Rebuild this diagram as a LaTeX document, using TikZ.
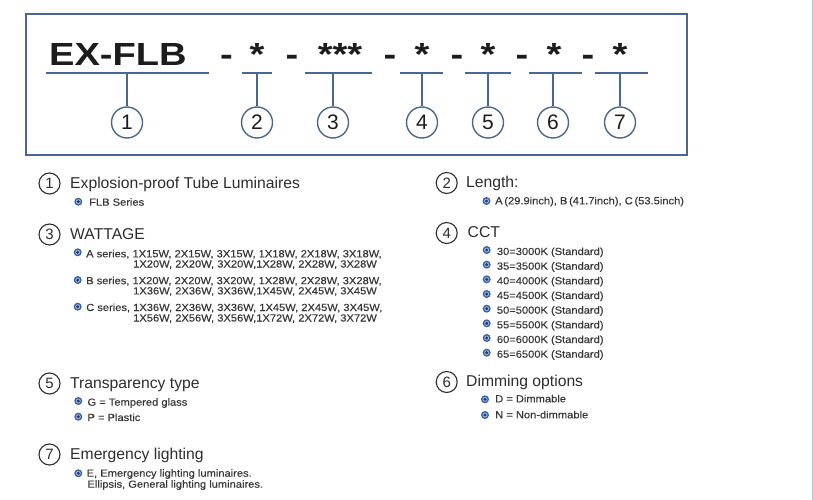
\documentclass[tikz,border=0pt]{standalone}
\usepackage{fontspec}
\setmainfont{Liberation Sans}
\newfontfamily\codefont[FakeStretch=1.19]{Liberation Sans Bold}
\newfontfamily\smallfont[FakeStretch=1.08, FakeBold=0.3]{Liberation Sans}

\definecolor{boxblue}{RGB}{72,104,145}
\definecolor{codeblack}{RGB}{28,28,28}
\definecolor{txtdark}{RGB}{45,45,45}
\definecolor{txtgrey}{RGB}{55,55,55}
\definecolor{bulblue}{RGB}{52,95,162}
\definecolor{buldark}{RGB}{30,62,120}
\definecolor{edgegrey}{RGB}{185,198,212}

\tikzset{
    uline/.style = {draw=boxblue, line width=2pt},
    code/.style = {anchor=base, inner sep=0pt, text=codeblack, font=\codefont\fontsize{32}{32}\selectfont},
    bignum/.style = {draw=boxblue, circle, line width=1.4pt, minimum size=31pt, inner sep=0pt, text=codeblack, font=\fontsize{21}{21}\selectfont},
    num/.style = {draw=txtdark, circle, line width=1.1pt, minimum size=21pt, inner sep=0pt, text=txtdark, font=\fontsize{15}{15}\selectfont},
    head/.style = {anchor=base west, inner sep=0pt, text=txtdark, font=\fontsize{15.7}{18}\selectfont},
    item/.style = {anchor=base west, inner sep=0pt, text=txtgrey, font=\smallfont\fontsize{10.3}{11}\selectfont},
    bul/.pic = {
        \fill[bulblue] (0,0) circle (4pt);
        \fill[white!55!bulblue] (0,0) circle (2.5pt);
        \fill[buldark] (0,0) circle (1.7pt);
    }
}

\begin{document}
\begin{tikzpicture}[x=1pt, y=-1pt]
    \useasboundingbox (0,0) rectangle (813,500);
    \draw[edgegrey, line width=1pt] (812.3,0) -- (812.3,500);

    % code box
    \draw[boxblue, line width=2pt] (26,14) rectangle (687,155);
    \node[code, anchor=base west] (name) at (49,66) {EX-FLB};
    \foreach \x/\t [count=\i] in {226.5/-, 257/*, 292/-, 340/***, 390/-, 422/*, 457/-, 488/*, 522/-, 554/*, 588/-, 620/*}
        \node[code] (k\i) at (\x,66) {\t};

    % underlines, stems and numbers
    \foreach \l/\r/\s [count=\i] in {46/209/127, 242/272/257, 305/372/333, 400/443/422, 465/511/488, 529/582/553, 595/648/620} {
        \draw[uline] (\l,73) -- (\r,73);
        \coordinate (u\i) at (\s,73);
        \node[bignum] (c\i) at (\s,122.5) {\i};
        \draw[boxblue, line width=1.4pt] (u\i) -- (c\i);
    }

    % left column
    \node[num] (n1) at (49.5,183.5) {1};
    \node[head] (h1) at (70,188.3) {Explosion-proof Tube Luminaires};
    \pic at (78.3,201.7) {bul};
    \node[item] (flb) at (89,205.7) {FLB Series};

    \node[num] (n3) at (49.5,234.5) {3};
    \node[head] (h3) at (70,239) {WATTAGE};
    \pic at (77.7,252.3) {bul};
    \node[item] (wa) at (86,257.3) {A series, 1X15W, 2X15W, 3X15W, 1X18W, 2X18W, 3X18W,};
    \node[item] (wa2) at (133,267.5) {1X20W, 2X20W, 3X20W,1X28W, 2X28W, 3X28W};
    \pic at (77.7,280) {bul};
    \node[item] (wb) at (86,284.2) {B series, 1X20W, 2X20W, 3X20W, 1X28W, 2X28W, 3X28W,};
    \node[item] (wb2) at (133,294.4) {1X36W, 2X36W, 3X36W,1X45W, 2X45W, 3X45W};
    \pic at (77.7,306.7) {bul};
    \node[item] (wc) at (86,311) {C series, 1X36W, 2X36W, 3X36W, 1X45W, 2X45W, 3X45W,};
    \node[item] (wc2) at (133,321.5) {1X56W, 2X56W, 3X56W,1X72W, 2X72W, 3X72W};

    \node[num] (n5) at (49.5,383.5) {5};
    \node[head] (h5) at (70,388.3) {Transparency type};
    \pic at (78.3,401) {bul};
    \node[item] (tg) at (87.3,405.7) {G = Tempered glass};
    \pic at (78.3,416.7) {bul};
    \node[item] (tp) at (87.3,421) {P = Plastic};

    \node[num] (n7) at (49.5,454.5) {7};
    \node[head] (h7) at (70,459) {Emergency lighting};
    \pic at (78.3,473.3) {bul};
    \node[item] (em) at (86.5,476.7) {E, Emergency lighting luminaires.};
    \node[item] (em2) at (87.3,487.7) {Ellipsis, General lighting luminaires.};

    % right column
    \node[num] (n2) at (446.7,183) {2};
    \node[head] (h2) at (466,187.7) {Length:};
    \pic at (486.5,201) {bul};
    \node[item] (len) at (495,204.3) {A\,(29.9inch), B\,(41.7inch), C\,(53.5inch)};

    \node[num] (n4) at (446.7,233) {4};
    \node[head] (h4) at (467.5,237.7) {CCT};
    \foreach \a/\b [count=\i from 0] in {30/3000, 35/3500, 40/4000, 45/4500, 50/5000, 55/5500, 60/6000, 65/6500} {
        \pic at (486.7,250+14.67*\i) {bul};
        \node[item] (t\a) at (496.7,255+14.67*\i) {\a=\b K (Standard)};
    }

    \node[num] (n6) at (446.7,382) {6};
    \node[head] (h6) at (466,386.7) {Dimming options};
    \pic at (485,399.3) {bul};
    \node[item] (dd) at (495,402.3) {D = Dimmable};
    \pic at (485,415) {bul};
    \node[item] (dn) at (495,418.3) {N = Non-dimmable};
\end{tikzpicture}
\end{document}
